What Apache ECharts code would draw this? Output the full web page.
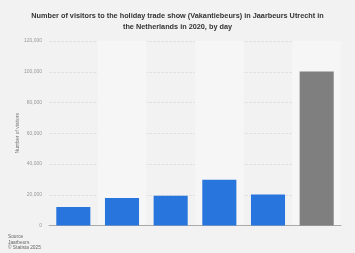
<!DOCTYPE html>
<html><head><meta charset="utf-8">
<script src="https://cdn.jsdelivr.net/npm/echarts@6/dist/echarts.min.js"></script>
<style>html,body{margin:0;padding:0;background:#f2f2f2}#c{width:355px;height:253px}</style>
</head><body><div id="c"></div>
<script>
const categories = ['Day 1','Day 2','Day 3','Day 4','Day 5','Total'];
const visitors = [12000, 17900, 19300, 29800, 20200, 100200];
const yTicks = [0, 20000, 40000, 60000, 80000, 100000, 120000];
const barColors = ['#2876dd','#2876dd','#2876dd','#2876dd','#2876dd','#7f7f7f'];

const chart = echarts.init(document.getElementById('c'), null, {renderer:'canvas'});
chart.setOption({
  backgroundColor:'#f2f2f2',
  animation:false,
  title:{
    text:'Number of visitors to the holiday trade show (Vakantiebeurs) in Jaarbeurs Utrecht in\nthe Netherlands in 2020, by day',
    left:'center', top:5,
    textStyle:{fontFamily:'Arial, Liberation Sans', fontSize:7.3, fontWeight:'bold', color:'#333', lineHeight:11}
  },
  graphic:[{type:'text', left:8, top:234, style:{text:'Source\nJaarbeurs\n© Statista 2025', fontSize:4.8, lineHeight:5.6, fill:'#666', fontFamily:'Arial, Liberation Sans'}}],
  grid:{left:49, right:14, top:41, bottom:27.5},
  xAxis:{type:'category', data:categories,
    axisLine:{lineStyle:{color:'#aaa'}}, axisTick:{show:false}, axisLabel:{show:false},
    splitArea:{show:true, areaStyle:{color:['rgba(0,0,0,0)','#f6f6f6']}}},
  yAxis:{type:'value', min:yTicks[0], max:yTicks[yTicks.length-1], interval:20000,
    name:'Number of visitors', nameLocation:'middle', nameGap:29, nameMoveOverlap:false,
    nameTextStyle:{fontSize:5, color:'#777', fontFamily:'Arial, Liberation Sans'},
    axisLabel:{fontSize:5, color:'#999', fontFamily:'Arial, Liberation Sans', margin:7,
      formatter:v=>v.toLocaleString('en-US')},
    axisLine:{show:false}, axisTick:{show:false},
    splitLine:{lineStyle:{color:'#e2e2e2', type:[3,1]}}},
  series:[{type:'bar', barWidth:'70%',
    data:visitors.map((v,i)=>({value:v, itemStyle:{color:barColors[i]}}))}]
});
</script></body></html>
